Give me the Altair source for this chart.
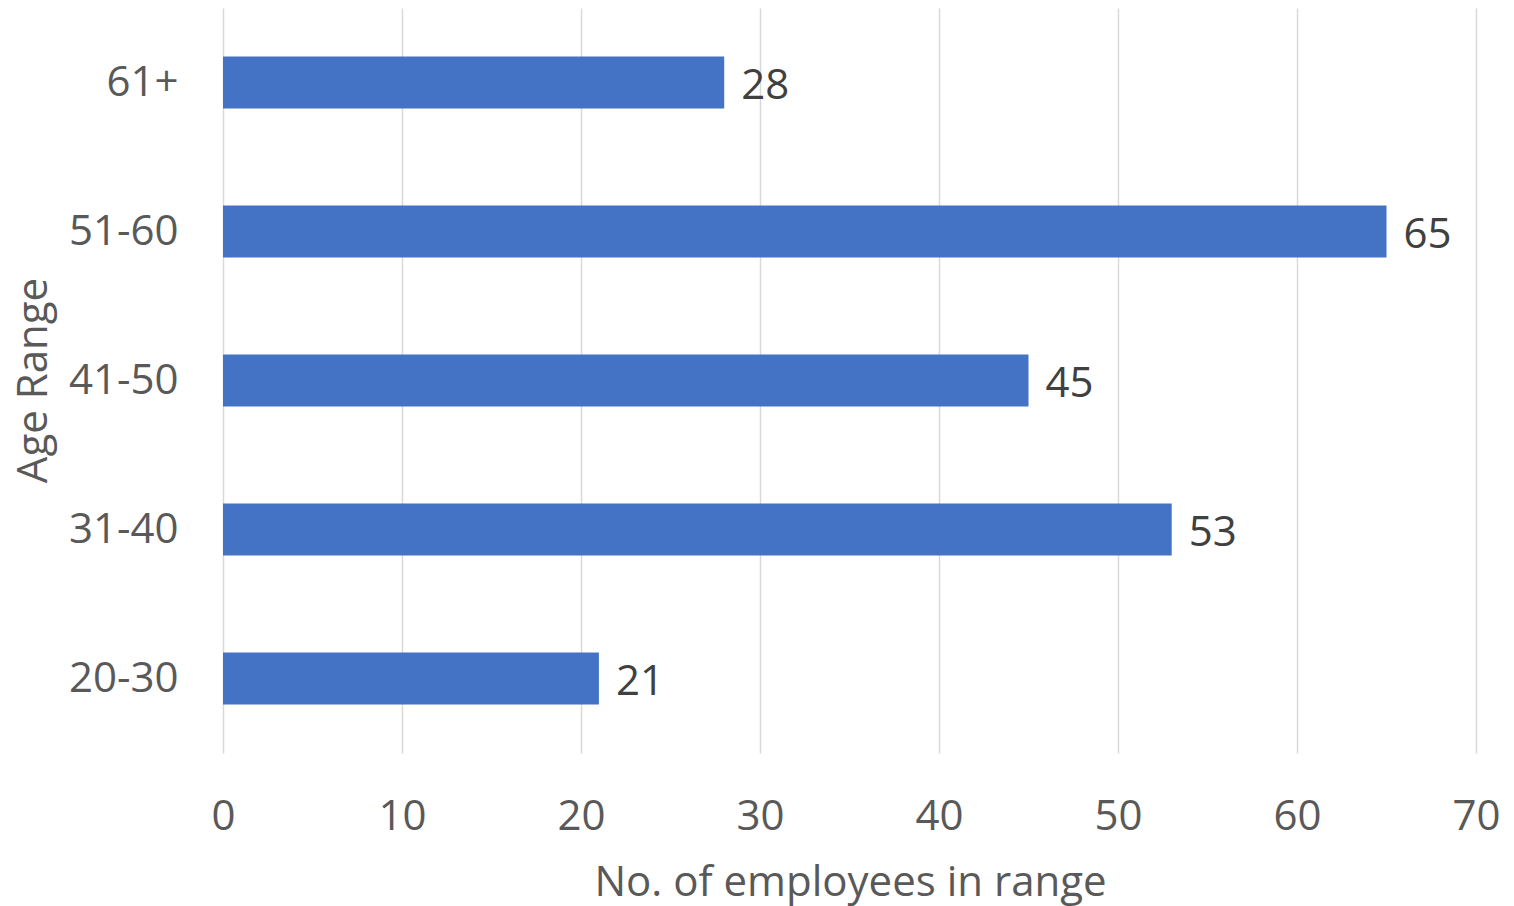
import altair as alt
import pandas as pd

age_ranges = ["61+", "51-60", "41-50", "31-40", "20-30"]
employees = [28, 65, 45, 53, 21]
x_ticks = [0, 10, 20, 30, 40, 50, 60, 70]

df = pd.DataFrame({"age": age_ranges, "count": employees})

FONT = "Open Sans"
FS = 42

x = alt.X(
    "count:Q",
    scale=alt.Scale(domain=[0, 70], nice=False),
    axis=alt.Axis(
        values=x_ticks,
        title="No. of employees in range",
        grid=True,
        gridColor="#d9d9d9",
        gridWidth=1.5,
        domain=False,
        ticks=False,
        labelFlush=False,
        labelPadding=43,
        labelFontSize=FS,
        labelColor="#595959",
        labelFont=FONT,
        titleFont=FONT,
        titleFontSize=FS,
        titleFontWeight="normal",
        titleColor="#595959",
        titleX=627,
        titleY=129,
        titleBaseline="middle",
        titleAlign="center",
    ),
)
y = alt.Y(
    "age:N",
    sort=age_ranges,
    scale=alt.Scale(paddingInner=0.651, paddingOuter=0.3255),
    axis=alt.Axis(
        title="Age Range",
        domain=False,
        ticks=False,
        grid=False,
        labelPadding=45,
        labelFontSize=FS,
        labelColor="#595959",
        labelFont=FONT,
        titleFont=FONT,
        titleFontSize=FS,
        titleFontWeight="normal",
        titleColor="#595959",
        titleAngle=-90,
        titleX=-190,
        titleY=372,
        titleBaseline="middle",
        titleAlign="center",
    ),
)

bars = alt.Chart(df).mark_bar(color="#4472c4").encode(x=x, y=y)
labels = alt.Chart(df).mark_text(
    align="left", baseline="middle", dx=17, dy=3, fontSize=FS, font=FONT, color="#404040"
).encode(x="count:Q", y=alt.Y("age:N", sort=age_ranges), text="count:Q")

chart = (
    alt.layer(bars, labels)
    .properties(
        width=1253,
        height=745,
        autosize=alt.AutoSizeParams(type="none"),
        padding={"left": 223, "top": 8, "right": 38, "bottom": 153},
        background="white",
    )
    .configure_view(stroke=None)
)

chart.save("out.html", embed_options={"renderer": "svg", "actions": False})
